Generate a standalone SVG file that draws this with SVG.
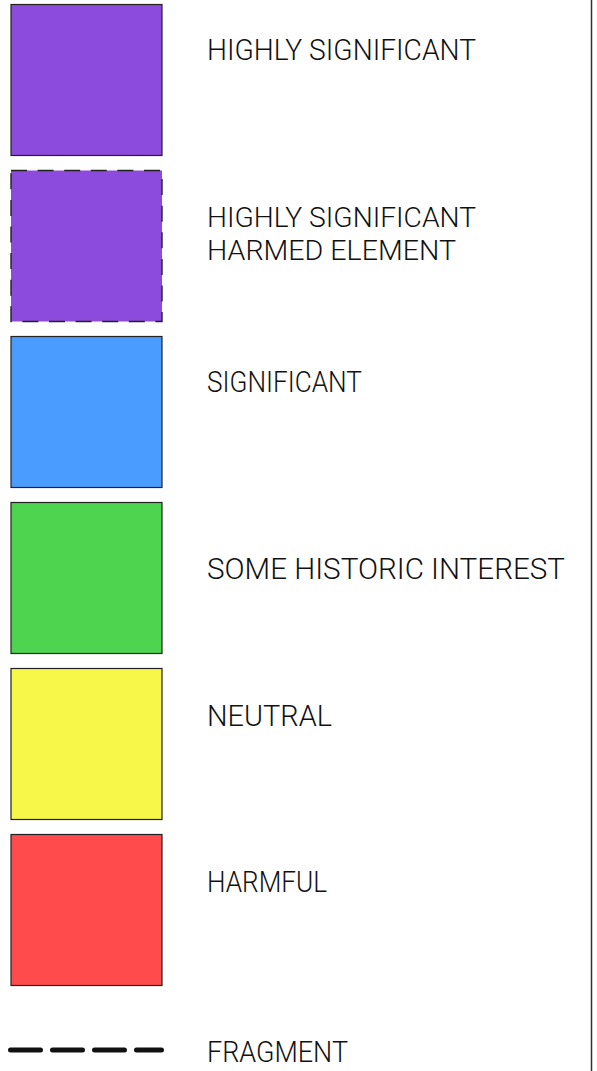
<svg xmlns="http://www.w3.org/2000/svg" width="597" height="1071" viewBox="0 0 597 1071">
<style>
.sw{stroke:#222;stroke-width:1.2}
.lbl{font-family:Roboto,"Liberation Sans",sans-serif;font-weight:300;font-size:29px;fill:#111}
.sm{font-size:27px}
</style>
<rect width="597" height="1071" fill="#fff"/>
<g id="highly-significant">
<rect class="sw" x="11" y="4.5" width="151" height="151" fill="#8c4bdc"/>
<text class="lbl" x="207" y="60" textLength="269" lengthAdjust="spacingAndGlyphs">HIGHLY  SIGNIFICANT</text>
</g>
<g id="highly-significant-harmed">
<rect x="11" y="170.5" width="151" height="151" fill="#8c4bdc" stroke="#222" stroke-width="1.4" stroke-dasharray="16 10.6"/>
<text class="lbl sm" x="207" y="227" textLength="269" lengthAdjust="spacingAndGlyphs">HIGHLY  SIGNIFICANT</text>
<text class="lbl sm" x="207" y="260" textLength="249" lengthAdjust="spacingAndGlyphs">HARMED  ELEMENT</text>
</g>
<g id="significant">
<rect class="sw" x="11" y="336.5" width="151" height="151" fill="#4a9cff"/>
<text class="lbl" x="207" y="392" textLength="155" lengthAdjust="spacingAndGlyphs">SIGNIFICANT</text>
</g>
<g id="some-historic-interest">
<rect class="sw" x="11" y="502.5" width="151" height="151" fill="#4fd44f"/>
<text class="lbl" x="207" y="579" textLength="358" lengthAdjust="spacingAndGlyphs">SOME  HISTORIC  INTEREST</text>
</g>
<g id="neutral">
<rect class="sw" x="11" y="668.5" width="151" height="151" fill="#f7f74a"/>
<text class="lbl" x="207" y="726" textLength="125" lengthAdjust="spacingAndGlyphs">NEUTRAL</text>
</g>
<g id="harmful">
<rect class="sw" x="11" y="834.5" width="151" height="151" fill="#ff4b4b"/>
<text class="lbl" x="207" y="892" textLength="120" lengthAdjust="spacingAndGlyphs">HARMFUL</text>
</g>
<g id="fragment">
<line x1="10.5" y1="1050" x2="161.5" y2="1050" stroke="#111" stroke-width="5" stroke-linecap="round" stroke-dasharray="30 12"/>
<text class="lbl" x="207" y="1062" textLength="141" lengthAdjust="spacingAndGlyphs">FRAGMENT</text>
</g>
<g id="connectors">
<line x1="591.5" y1="0" x2="591.5" y2="1071" stroke="#333" stroke-width="1.5"/>
</g>
</svg>
